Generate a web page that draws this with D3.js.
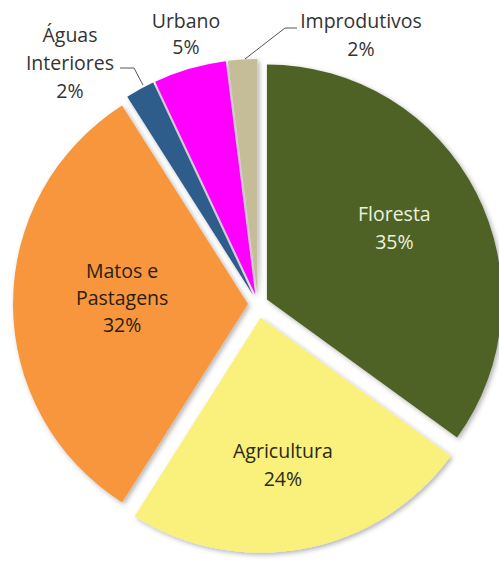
<!DOCTYPE html>
<html><head><meta charset="utf-8">
<script src="https://cdn.jsdelivr.net/npm/d3@7"></script>
<style>
html,body{margin:0;padding:0;background:#fff;}
svg{display:block;}
text{font-family:"Open Sans",Lato,sans-serif;}
</style></head>
<body>
<svg id="chart" width="499" height="561"></svg>
<script>
// ---- data ----
const categories = ["Floresta", "Agricultura", "Matos e Pastagens", "Águas Interiores", "Urbano", "Improdutivos"];
const values = [35, 24, 32, 2, 5, 2];
const labelLines = [["Floresta"], ["Agricultura"], ["Matos e", "Pastagens"], ["Águas", "Interiores"], ["Urbano"], ["Improdutivos"]];
const colors = ["#4F6228", "#FAF07C", "#F7963C", "#2E5D8C", "#FF00FF", "#C4BD97"];

// ---- layout ----
const W = 499, H = 561;
const cx = 258, cy = 304, R = 235;
const explodeDefault = 10;
const explodeBy = {"Agricultura": 14};
const svg = d3.select("#chart");

const defs = svg.append("defs");
const f = defs.append("filter").attr("id", "sh").attr("x", "-20%").attr("y", "-20%").attr("width", "140%").attr("height", "140%");
f.append("feDropShadow").attr("dx", 2).attr("dy", 2).attr("stdDeviation", 2.5)
  .attr("flood-color", "#000").attr("flood-opacity", 0.3);

const data = categories.map((c, i) => ({cat: c, value: values[i], lines: labelLines[i], color: colors[i]}));
const pie = d3.pie().value(d => d.value).sort(null).startAngle(0).endAngle(2 * Math.PI);
const arcs = pie(data);
const arc = d3.arc().innerRadius(0).outerRadius(R);

const g = svg.append("g").attr("transform", `translate(${cx},${cy})`);

function mid(a) { return (a.startAngle + a.endAngle) / 2; }
function offset(a) {
  const m = mid(a);
  const e = explodeBy[a.data.cat] || explodeDefault;
  return [e * Math.sin(m), -e * Math.cos(m)];
}

g.selectAll("path.slice").data(arcs).enter().append("path")
  .attr("class", "slice")
  .attr("transform", d => { const o = offset(d); return `translate(${o[0]},${o[1]})`; })
  .attr("d", arc)
  .attr("fill", d => d.data.color)
  .attr("filter", "url(#sh)");

const fs = 19.5, lh = 28;
const rad = Math.PI / 180;
// inside labels: radius and angle tweak from slice mid-angle
const inside = {
  "Floresta": {r: 146, da: -2.2, color: "#EBF1DA"},
  "Agricultura": {r: 149, da: 2.2, color: "#2b2a14"},
  "Matos e Pastagens": {r: 126, da: 2.7, color: "#2b2010", lh: 27}
};
arcs.forEach(a => {
  const cfg = inside[a.data.cat];
  if (!cfg) return;
  const m = mid(a) + cfg.da * rad;
  const o = offset(a);
  const x = o[0] + cfg.r * Math.sin(m), y = o[1] - cfg.r * Math.cos(m);
  const l2 = cfg.lh || lh;
  const lines = a.data.lines.concat([a.data.value + "%"]);
  const t = g.append("text").attr("text-anchor", "middle").attr("fill", cfg.color).attr("font-size", fs);
  lines.forEach((l, i) => {
    t.append("tspan").attr("x", x).attr("y", y + (i - (lines.length - 1) / 2) * l2 + fs * 0.35).text(l);
  });
});

// outside labels (absolute positions)
const outside = {
  "Águas Interiores": {x: 70, y: 42, lh: 28, leader: [[120, 68], [134, 68], [143, 85]]},
  "Urbano": {x: 186, y: 28, lh: 26},
  "Improdutivos": {x: 361, y: 28, lh: 28, leader: [[297, 28], [285, 28], [245, 59]]}
};
arcs.forEach(a => {
  const cfg = outside[a.data.cat];
  if (!cfg) return;
  const lines = a.data.lines.concat([a.data.value + "%"]);
  const t = svg.append("text").attr("text-anchor", "middle").attr("fill", "#333").attr("font-size", fs);
  lines.forEach((l, i) => {
    t.append("tspan").attr("x", cfg.x).attr("y", cfg.y + i * cfg.lh).text(l);
  });
  if (cfg.leader) {
    svg.append("path").attr("d", d3.line()(cfg.leader)).attr("fill", "none").attr("stroke", "#555").attr("stroke-width", 1);
  }
});
</script>
</body></html>
